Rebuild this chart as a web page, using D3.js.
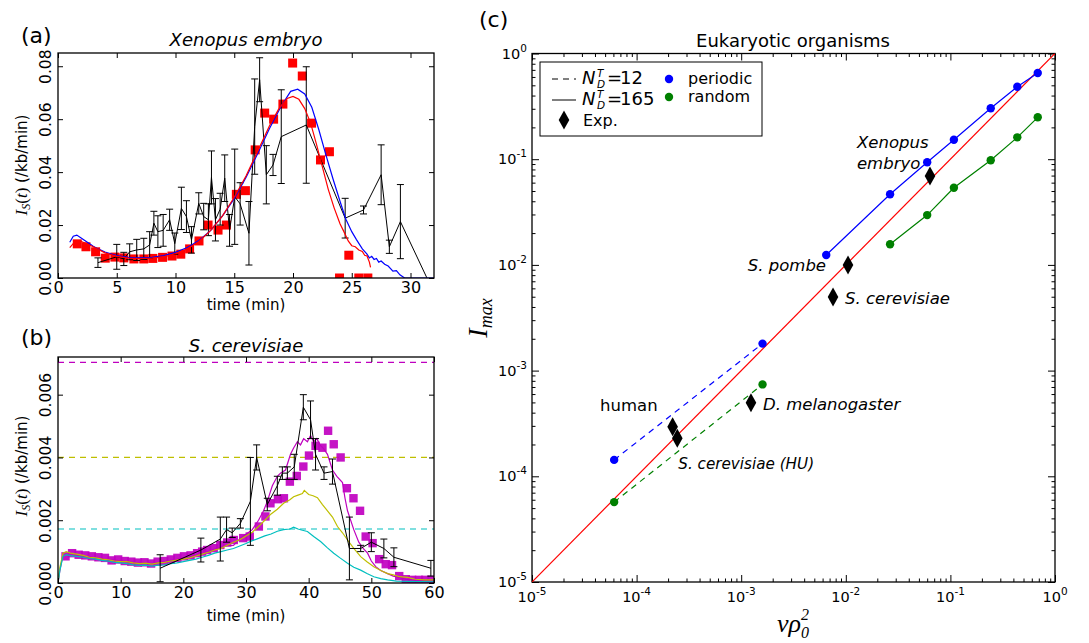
<!DOCTYPE html>
<html>
<head>
<meta charset="utf-8">
<script src="https://cdn.jsdelivr.net/npm/d3@7"></script>
<style>
  body { margin: 0; background: #fff; }
  text { font-family: "DejaVu Sans", sans-serif; fill: #000; }
  .math { font-family: "Liberation Serif", "DejaVu Serif", serif; font-style: italic; }
</style>
</head>
<body>
<svg id="fig" width="1089" height="643"></svg>
<script>
// ---------- panel (a): Xenopus embryo ----------
const xenoSquareT = [1.64, 2.38, 3.2, 4.02, 4.84, 5.6, 6.46, 7.3, 8.07, 8.9, 9.7, 10.45, 11.2, 12.0, 12.77,
  13.62, 14.33, 15.18, 15.95, 16.78, 17.59, 18.35, 19.14, 19.97, 20.79, 21.58, 22.34, 23.1, 23.96, 24.75, 25.6, 26.37];
const xenoSquareV = [0.0129, 0.0118, 0.0099, 0.0075, 0.0079, 0.0076, 0.0072, 0.0072, 0.0074, 0.0078, 0.0083, 0.009, 0.011, 0.014, 0.020,
  0.0181, 0.020, 0.0316, 0.033, 0.0484, 0.0623, 0.060, 0.0657, 0.0812, 0.0763, 0.0585, 0.0446, 0.0477, 0.0, 0.0086, 0.0, 0.0];

const xenoBlueT = [1.0, 1.3, 1.6, 2.0, 2.5, 3.0, 3.5, 4.0, 5.0, 6.0, 7.0, 8.0, 9.0, 10.0, 11.0, 12.0, 13.0, 14.0, 15.0, 16.0, 17.0,
  18.0, 19.0, 19.8, 20.4, 21.0, 21.6, 22.2, 22.8, 23.4, 24.0, 24.5, 25.0, 25.4, 25.9, 26.3, 26.5, 26.7, 26.9, 27.1, 27.3, 27.5,
  27.8, 28.1, 28.5, 28.8, 29.1, 29.5, 32.0];
const xenoBlueV = [0.0135, 0.0158, 0.0162, 0.0150, 0.0135, 0.0120, 0.0108, 0.0098, 0.0085, 0.0078, 0.0076, 0.0078, 0.0085, 0.0097,
  0.0115, 0.0142, 0.0180, 0.0235, 0.0300, 0.0380, 0.0470, 0.0565, 0.0650, 0.0705, 0.0713, 0.0695, 0.0645, 0.0560, 0.0465, 0.0375,
  0.0290, 0.0222, 0.0175, 0.0145, 0.0110, 0.0090, 0.0076, 0.0082, 0.0070, 0.0074, 0.0060, 0.0064, 0.0052, 0.0045, 0.0026, 0.0028,
  0.0012, 0.0, 0.0];

const xenoRedT = [1.0, 1.5, 2.0, 3.0, 4.0, 5.0, 6.0, 7.0, 8.0, 9.0, 10.0, 11.0, 12.0, 13.0, 14.0, 15.0, 16.0, 17.0, 18.0, 18.8, 19.5,
  20.0, 20.5, 21.0, 21.5, 22.0, 22.5, 23.0, 23.5, 24.0, 24.3, 24.7, 25.0, 25.3, 25.6, 25.9, 26.1, 26.3, 26.5, 26.6];
const xenoRedV = [0.0115, 0.0140, 0.0138, 0.0118, 0.0095, 0.0082, 0.0075, 0.0073, 0.0075, 0.0080, 0.0092, 0.0110, 0.0138, 0.0180,
  0.0235, 0.0305, 0.0385, 0.0480, 0.0575, 0.0640, 0.0678, 0.0686, 0.0675, 0.0640, 0.0585, 0.0505, 0.0420, 0.0335, 0.0265, 0.0205,
  0.0178, 0.0140, 0.0122, 0.0118, 0.0106, 0.0100, 0.0086, 0.0083, 0.0060, 0.0040];

const xenoExpT = [3.4, 5.0, 5.6, 6.1, 6.7, 7.3, 7.8, 8.16, 8.5, 8.95, 9.5, 9.94, 10.5, 10.93, 11.36, 11.98, 12.4, 12.8, 13.06, 13.4,
  13.8, 14.19, 14.6, 15.04, 15.5, 16.25, 16.74, 17.16, 17.73, 18.3, 19.0, 21.13, 24.44, 26.0, 27.5, 28.2, 29.14, 31.4];
const xenoExpV = [0.0058, 0.0080, 0.0072, 0.0099, 0.0106, 0.0110, 0.0125, 0.0207, 0.0175, 0.0180, 0.0220, 0.0130, 0.0263, 0.0232,
  0.0144, 0.0282, 0.0232, 0.0220, 0.0380, 0.0220, 0.0260, 0.0377, 0.0180, 0.0307, 0.0280, 0.0169, 0.0572, 0.0749, 0.0390, 0.0427,
  0.0534, 0.0578, 0.0226, 0.0257, 0.0390, 0.0118, 0.0213, 0.0];
const xenoExpErr = [0.0018, 0.0047, 0.0025, 0.0030, 0.0040, 0.0040, 0.0050, 0.0045, 0.0060, 0.0060, 0.0040, 0.0040, 0.0080, 0.0060,
  0.0050, 0.0040, 0.0050, 0.0060, 0.0100, 0.0080, 0.0060, 0.0088, 0.0060, 0.0180, 0.0080, 0.0120, 0.0180, 0.0083, 0.0110, 0.0040,
  0.0177, 0.0220, 0.0075, 0.0015, 0.0113, 0.0025, 0.0140, 0.0];

// ---------- panel (b): S. cerevisiae ----------
const cereSquareT = [1.2, 2.25, 3.3, 4.35, 5.4, 6.45, 7.5, 8.55, 9.6, 10.65, 11.7, 12.75, 13.8, 14.85, 15.9, 16.95, 18.0, 19.05,
  20.1, 21.15, 22.2, 23.0, 23.8, 24.85, 25.9, 27.0, 28.05, 29.55, 30.6, 32.05, 33.1, 33.9, 35.1, 36.05, 37.0, 38.1, 39.15, 40.05,
  41.1, 42.2, 43.1, 44.0, 45.1, 46.1, 47.15, 48.2, 49.1, 50.2, 51.25, 52.3, 53.3, 54.45, 55.5, 56.5, 57.6, 58.6, 59.6];
const cereSquareV = [0.00085, 0.00095, 0.0009, 0.00088, 0.00085, 0.00082, 0.0008, 0.00072, 0.00075, 0.0007, 0.00068, 0.00065,
  0.00066, 0.00062, 0.00068, 0.0007, 0.00075, 0.0008, 0.00085, 0.00088, 0.00095, 0.001, 0.00105, 0.00111, 0.00121, 0.00129,
  0.00137, 0.00143, 0.00148, 0.0018, 0.00212, 0.00254, 0.00267, 0.0027, 0.00323, 0.00341, 0.00371, 0.00406, 0.00437, 0.00431,
  0.00485, 0.00442, 0.0040, 0.00302, 0.0027, 0.0023, 0.00148, 0.00127, 0.00076, 0.0006, 0.00057, 0.00022, 0.00012, 0.0001,
  0.0001, 0.0001, 0.0001];

const cereMagT = [0, 0.3, 0.7, 1.2, 2, 3, 4, 5, 6, 7, 8, 9, 10, 11, 12, 13, 14, 15, 16, 17, 18, 19, 20, 21, 22, 23, 24, 25, 26, 27,
  28, 29, 30, 31, 32, 32.8, 33.4, 34.2, 35, 35.5, 36.3, 37.1, 37.6, 38.2, 38.7, 39.2, 39.8, 40.3, 40.8, 41.3, 41.8, 42.3, 43,
  43.8, 44.5, 45.4, 45.8, 46.2, 47.2, 48, 48.7, 49.4, 50, 50.7, 51.5, 52.6, 53.5, 54.5, 55.5, 56.5, 58, 60];
const cereMagV = [0, 0.0004, 0.0008, 0.00092, 0.0009, 0.00088, 0.00085, 0.00083, 0.0008, 0.00078, 0.00072, 0.00074, 0.0007,
  0.00068, 0.00066, 0.00063, 0.00065, 0.00062, 0.00066, 0.00068, 0.00072, 0.00075, 0.00079, 0.00083, 0.00088, 0.00094, 0.001,
  0.00108, 0.00113, 0.00119, 0.0012, 0.0014, 0.00155, 0.0017, 0.002, 0.0023, 0.0026, 0.0031, 0.0034, 0.0035, 0.0036, 0.0041,
  0.0043, 0.0045, 0.0044, 0.0046, 0.0045, 0.0047, 0.0045, 0.0046, 0.0044, 0.0043, 0.0041, 0.0036, 0.0034, 0.0032, 0.0027, 0.0023,
  0.0017, 0.0013, 0.0011, 0.00095, 0.0007, 0.00052, 0.0004, 0.0003, 0.00022, 0.00018, 0.00012, 0.0001, 0.00008, 0.00008];

const cereYelT = [0, 0.3, 0.8, 1.3, 2, 3, 4, 5, 6, 7, 8, 9, 10, 11, 12, 13, 14, 15, 16, 17, 18, 19, 20, 21, 22, 23, 24, 25, 26, 27,
  28, 29, 30, 31, 32, 33, 34, 35, 36, 37, 37.6, 38.3, 39, 39.3, 40, 40.7, 41.4, 42.2, 43, 43.8, 44.6, 45.4, 46.2, 47.2, 48.3,
  49.3, 50.4, 51.5, 52.6, 53.5, 54.5, 55.8, 57, 58.5, 60];
const cereYelV = [0, 0.0005, 0.00095, 0.001, 0.00095, 0.00092, 0.00088, 0.00082, 0.0008, 0.00076, 0.00074, 0.0007, 0.00068,
  0.00068, 0.00064, 0.00062, 0.00063, 0.0006, 0.00064, 0.00066, 0.0007, 0.00073, 0.00076, 0.0008, 0.00086, 0.00092, 0.00098,
  0.00105, 0.0011, 0.0012, 0.0013, 0.00138, 0.0015, 0.00162, 0.0018, 0.002, 0.0022, 0.00235, 0.00254, 0.00265, 0.00275, 0.0028,
  0.00285, 0.00295, 0.00282, 0.00278, 0.00272, 0.0025, 0.0023, 0.0021, 0.0018, 0.0016, 0.00137, 0.0011, 0.00084, 0.00068,
  0.00052, 0.0004, 0.0003, 0.00026, 0.0002, 0.00018, 0.00012, 0.0001, 0.0001];

const cereCyanT = [0, 0.3, 0.8, 1.3, 2, 3, 4, 5, 6, 7, 8, 9, 10, 11, 12, 13, 14, 15, 16, 17, 18, 19, 20, 21, 22, 23, 24, 25, 26,
  27, 28, 29, 30, 31, 32, 33, 34, 35, 36, 37, 37.6, 38.3, 39, 39.8, 40.8, 41.9, 43, 44, 45, 46.2, 47.2, 48.3, 49.3, 50.4, 51.5,
  52.6, 54, 56, 60];
const cereCyanV = [0, 0.0004, 0.00085, 0.0009, 0.00087, 0.00085, 0.00082, 0.00078, 0.00076, 0.00072, 0.0007, 0.00066, 0.00064,
  0.00062, 0.00058, 0.00056, 0.00057, 0.00054, 0.00057, 0.00058, 0.00062, 0.00064, 0.00068, 0.00072, 0.00076, 0.00082, 0.00088,
  0.00095, 0.001, 0.00105, 0.0011, 0.00118, 0.00126, 0.00135, 0.00142, 0.0015, 0.00156, 0.00165, 0.0017, 0.00172, 0.00178,
  0.00172, 0.00168, 0.00164, 0.00148, 0.00132, 0.00112, 0.00095, 0.0008, 0.00063, 0.0005, 0.00041, 0.0003, 0.0002, 0.00014,
  0.0001, 0.00006, 0.00005, 0.00004];

const cereLevels = [0.00703, 0.004, 0.00172];
const cereLevelColors = ['#bf00bf', '#bfbf00', '#00bfbf'];

const cereExpT = [16.3, 22.8, 25.9, 26.9, 27.8, 29.1, 30.7, 31.7, 33.4, 35.0, 35.8, 36.6, 37.7, 39.15, 40.3, 41.1, 42.45, 43.8,
  46.5, 48.3, 50.0, 52.0, 53.6, 59.5];
const cereExpV = [0.00047, 0.00105, 0.0014, 0.0017, 0.0016, 0.0019, 0.0026, 0.0040, 0.0025, 0.0031, 0.0035, 0.0035, 0.0037, 0.0056,
  0.0052, 0.0041, 0.0035, 0.00355, 0.0011, 0.0011, 0.0013, 0.0011, 0.00082, 0.00047];
const cereExpErr = [0.00043, 0.00038, 0.0007, 0.0004, 0.00015, 0.00015, 0.0014, 0.0004, 0.0002, 0.0003, 0.0002, 0.0002, 0.0004,
  0.0004, 0.0006, 0.0005, 0.0002, 0.0004, 0.001, 0.0001, 0.0003, 0.0003, 0.0003, 0.00025];

// ---------- panel (c): Eukaryotic organisms ----------
const periodicX = [6.1e-5, 1.6e-3, 6.5e-3, 0.0265, 0.060, 0.108, 0.243, 0.436, 0.684];
const periodicY = [1.43e-4, 1.8e-3, 1.24e-2, 0.0466, 0.0935, 0.153, 0.303, 0.485, 0.654];
const randomX = [6.1e-5, 1.6e-3, 0.0265, 0.060, 0.108, 0.243, 0.436, 0.684];
const randomY = [5.7e-5, 7.4e-4, 0.0157, 0.0296, 0.0537, 0.0977, 0.161, 0.249];
const expNames = ['Xenopus embryo', 'S. pombe', 'S. cerevisiae', 'D. melanogaster', 'human', 'S. cerevisiae (HU)'];
const expX = [0.0638, 0.0105, 0.00755, 1.24e-3, 2.21e-4, 2.45e-4];
const expY = [0.0693, 0.0100, 0.00497, 4.97e-4, 2.94e-4, 2.29e-4];
const refLineX = [1e-5, 1];
const refLineY = [1e-5, 1];
const decadeExp = [-5, -4, -3, -2, -1, 0];

const svg = d3.select('#fig');

function frame(g, x, y) {
  const [x0, x1] = x.range(), [y0, y1] = y.range();
  g.append('rect').attr('x', x0).attr('y', y1).attr('width', x1 - x0).attr('height', y0 - y1)
    .attr('fill', 'none').attr('stroke', '#000').attr('stroke-width', 1.3);
}

function styleAxis(sel, size) {
  sel.select('.domain').remove();
  sel.attr('font-family', null).attr('font-size', null);
  sel.selectAll('line').attr('stroke', '#000');
  sel.selectAll('text').attr('font-size', size);
}

// linear panel with inside ticks on four sides, rotated y labels
function linearPanel(g, x, y, xTicks, yTicks, yFmt, clipId) {
  const [x0, x1] = x.range(), [y0, y1] = y.range();
  const tl = 5;
  g.append('g').attr('transform', `translate(0,${y0})`)
    .call(d3.axisBottom(x).tickValues(xTicks).tickFormat(d3.format('d')).tickSizeInner(-tl).tickSizeOuter(0).tickPadding(4))
    .call(s => styleAxis(s, 16));
  g.append('g').attr('transform', `translate(0,${y1})`)
    .call(d3.axisTop(x).tickValues(xTicks).tickFormat('').tickSizeInner(-tl).tickSizeOuter(0))
    .call(s => styleAxis(s, 16));
  g.append('g').attr('transform', `translate(${x1},0)`)
    .call(d3.axisRight(y).tickValues(yTicks).tickFormat('').tickSizeInner(-tl).tickSizeOuter(0))
    .call(s => styleAxis(s, 16));
  const ya = g.append('g').attr('transform', `translate(${x0},0)`)
    .call(d3.axisLeft(y).tickValues(yTicks).tickFormat(d3.format(yFmt)).tickSizeInner(-tl).tickSizeOuter(0))
    .call(s => styleAxis(s, 15.5));
  ya.selectAll('text').attr('transform', 'rotate(-90)').attr('x', 0).attr('y', -7).attr('dy', 0)
    .attr('text-anchor', 'middle');
  g.append('clipPath').attr('id', clipId).append('rect')
    .attr('x', x0).attr('y', y1).attr('width', x1 - x0).attr('height', y0 - y1);
  frame(g, x, y);
}

function ylabel(g, cx, cy) {
  const t = g.append('text').attr('transform', `translate(${cx},${cy}) rotate(-90)`).attr('text-anchor', 'middle');
  t.append('tspan').attr('class', 'math').attr('font-size', 17).text('I');
  t.append('tspan').attr('class', 'math').attr('font-size', 12).attr('dy', 3).text('S');
  t.append('tspan').attr('font-family', 'Liberation Serif').attr('font-size', 17).attr('dy', -3).text('(');
  t.append('tspan').attr('class', 'math').attr('font-size', 17).text('t');
  t.append('tspan').attr('font-family', 'Liberation Serif').attr('font-size', 17).text(')');
  t.append('tspan').attr('font-size', 15).text(' (/kb/min)');
}

function errorBars(g, x, y, T, V, E, clipId) {
  const eb = g.append('g').attr('clip-path', `url(#${clipId})`).attr('stroke', '#000').attr('stroke-width', 1);
  const pts = d3.zip(T, V, E);
  eb.selectAll('line.v').data(pts).join('line').attr('class', 'v')
    .attr('x1', d => x(d[0])).attr('x2', d => x(d[0])).attr('y1', d => y(d[1] - d[2])).attr('y2', d => y(d[1] + d[2]));
  [-1, 1].forEach(s => {
    eb.selectAll(`line.c${s}`).data(pts.filter(d => d[2] > 0)).join('line').attr('class', `c${s}`)
      .attr('x1', d => x(d[0]) - 3.5).attr('x2', d => x(d[0]) + 3.5)
      .attr('y1', d => y(d[1] + s * d[2])).attr('y2', d => y(d[1] + s * d[2]));
  });
  eb.append('path').datum(d3.zip(T, V)).attr('fill', 'none')
    .attr('d', d3.line().x(d => x(d[0])).y(d => y(d[1])));
}

// ================= panel (a) =================
{
  const g = svg.append('g');
  const x = d3.scaleLinear().domain([0, 32]).range([58, 434]);
  const y = d3.scaleLinear().domain([0, 0.085]).range([278, 53]);
  const clip = 'clipA';
  const line = d3.line().x(d => x(d[0])).y(d => y(d[1]));
  g.append('g').attr('clip-path', `url(#${clip})`).selectAll('rect').data(d3.zip(xenoSquareT, xenoSquareV)).join('rect')
    .attr('x', d => x(d[0]) - 4.5).attr('y', d => y(d[1]) - 4.5).attr('width', 9).attr('height', 9).attr('fill', '#ff0000');
  errorBars(g, x, y, xenoExpT, xenoExpV, xenoExpErr, clip);
  g.append('path').datum(d3.zip(xenoBlueT, xenoBlueV)).attr('clip-path', `url(#${clip})`)
    .attr('fill', 'none').attr('stroke', '#0000ff').attr('stroke-width', 1.2).attr('d', line);
  g.append('path').datum(d3.zip(xenoRedT, xenoRedV)).attr('clip-path', `url(#${clip})`)
    .attr('fill', 'none').attr('stroke', '#ff0000').attr('stroke-width', 1.2).attr('d', line);
  linearPanel(g, x, y, [0, 5, 10, 15, 20, 25, 30], [0, 0.02, 0.04, 0.06, 0.08], '.2f', clip);
  g.append('text').attr('x', 246).attr('y', 46).attr('text-anchor', 'middle').attr('font-size', 18)
    .attr('font-style', 'italic').text('Xenopus embryo');
  g.append('text').attr('x', 246).attr('y', 310).attr('text-anchor', 'middle').attr('font-size', 15).text('time (min)');
  ylabel(g, 27, 165);
  g.append('text').attr('x', 21).attr('y', 43).attr('font-size', 22).text('(a)');
}

// ================= panel (b) =================
{
  const g = svg.append('g');
  const x = d3.scaleLinear().domain([0, 60]).range([58, 434]);
  const y = d3.scaleLinear().domain([0, 0.0072]).range([583, 357]);
  const clip = 'clipB';
  const line = d3.line().x(d => x(d[0])).y(d => y(d[1]));
  const body = g.append('g').attr('clip-path', `url(#${clip})`);
  body.selectAll('line.lvl').data(cereLevels).join('line').attr('class', 'lvl')
    .attr('x1', x(0)).attr('x2', x(60)).attr('y1', d => y(d)).attr('y2', d => y(d))
    .attr('stroke', (d, i) => cereLevelColors[i]).attr('stroke-width', 1.2).attr('stroke-dasharray', '6,5');
  body.selectAll('rect').data(d3.zip(cereSquareT, cereSquareV)).join('rect')
    .attr('x', d => x(d[0]) - 4.2).attr('y', d => y(d[1]) - 4.2).attr('width', 8.4).attr('height', 8.4)
    .attr('fill', '#c000c0').attr('opacity', 0.92);
  [[cereMagT, cereMagV, '#bf00bf'], [cereYelT, cereYelV, '#bfbf00'], [cereCyanT, cereCyanV, '#00bfbf']].forEach(([T, V, c]) => {
    body.append('path').datum(d3.zip(T, V)).attr('fill', 'none').attr('stroke', c).attr('stroke-width', 1.2).attr('d', line);
  });
  errorBars(g, x, y, cereExpT, cereExpV, cereExpErr, clip);
  linearPanel(g, x, y, [0, 10, 20, 30, 40, 50, 60], [0, 0.002, 0.004, 0.006], '.3f', clip);
  g.append('text').attr('x', 246).attr('y', 352).attr('text-anchor', 'middle').attr('font-size', 18)
    .attr('font-style', 'italic').text('S. cerevisiae');
  g.append('text').attr('x', 246).attr('y', 621).attr('text-anchor', 'middle').attr('font-size', 15).text('time (min)');
  ylabel(g, 27, 466);
  g.append('text').attr('x', 21).attr('y', 345).attr('font-size', 22).text('(b)');
}

// ================= panel (c) =================
{
  const g = svg.append('g');
  const x = d3.scaleLog().domain([1e-5, 1]).range([532, 1055]);
  const y = d3.scaleLog().domain([1e-5, 1]).range([582, 53.5]);
  const majors = decadeExp.map(e => Math.pow(10, e));
  const minors = [];
  majors.slice(0, -1).forEach(m => { for (let k = 2; k < 10; k++) minors.push(m * k); });
  const [x0, x1] = x.range(), [y0, y1] = y.range();
  const axes = [
    [d3.axisBottom, x, `translate(0,${y0})`],
    [d3.axisTop, x, `translate(0,${y1})`],
    [d3.axisLeft, y, `translate(${x0},0)`],
    [d3.axisRight, y, `translate(${x1},0)`]
  ];
  axes.forEach(([ax, sc, tr]) => {
    g.append('g').attr('transform', tr).call(ax(sc).tickValues(majors).tickFormat('').tickSizeInner(-7).tickSizeOuter(0))
      .call(s => styleAxis(s, 14));
    g.append('g').attr('transform', tr).call(ax(sc).tickValues(minors).tickFormat('').tickSizeInner(-3.5).tickSizeOuter(0))
      .call(s => styleAxis(s, 14));
  });
  frame(g, x, y);
  // tick labels 10^k
  const xl = g.append('g');
  decadeExp.forEach((e, i) => {
    const t = xl.append('text').attr('x', x(majors[i])).attr('y', y0 + 20).attr('text-anchor', 'middle').attr('font-size', 14.5);
    t.append('tspan').text('10');
    t.append('tspan').attr('font-size', 10.5).attr('dy', -7).text(e);
    const u = xl.append('text').attr('x', x0 - 5).attr('y', y(majors[i]) + 5).attr('text-anchor', 'end').attr('font-size', 14.5);
    u.append('tspan').text('10');
    u.append('tspan').attr('font-size', 10.5).attr('dy', -7).text(e);
  });

  const clip = 'clipC';
  g.append('clipPath').attr('id', clip).append('rect').attr('x', x0).attr('y', y1).attr('width', x1 - x0).attr('height', y0 - y1);
  const body = g.append('g').attr('clip-path', `url(#${clip})`);
  const line = d3.line().x(d => x(d[0])).y(d => y(d[1]));
  body.append('path').datum(d3.zip(refLineX, refLineY)).attr('fill', 'none').attr('stroke', '#ff0000').attr('stroke-width', 1.2).attr('d', line);

  [[periodicX, periodicY, '#0000ff'], [randomX, randomY, '#008000']].forEach(([X, Y, c]) => {
    const pts = d3.zip(X, Y);
    body.append('path').datum(pts.slice(0, 2)).attr('fill', 'none').attr('stroke', c).attr('stroke-width', 1.2)
      .attr('stroke-dasharray', '6,5').attr('d', line);
    body.append('path').datum(pts.slice(2)).attr('fill', 'none').attr('stroke', c).attr('stroke-width', 1.2).attr('d', line);
    body.selectAll(null).data(pts).join('circle').attr('cx', d => x(d[0])).attr('cy', d => y(d[1])).attr('r', 4.2).attr('fill', c);
  });

  const diamond = 'M0,-9.5L5.3,0L0,9.5L-5.3,0Z';
  body.selectAll('path.exp').data(d3.zip(expX, expY)).join('path').attr('class', 'exp')
    .attr('transform', d => `translate(${x(d[0])},${y(d[1])})`).attr('d', diamond).attr('fill', '#000');

  // annotations, offsets in pixels from each diamond
  const ann = [
    { dx: -73, dy: -28, anchor: 'start', size: 16.5, italic: true, lines: ['Xenopus', 'embryo'] },
    { dx: -22, dy: 6, anchor: 'end', size: 16.5, italic: true },
    { dx: 12, dy: 7, anchor: 'start', size: 16.5, italic: true },
    { dx: 12, dy: 7, anchor: 'start', size: 16.5, italic: true },
    { dx: -15, dy: -16, anchor: 'end', size: 16.5, italic: false },
    { dx: 1, dy: 31, anchor: 'start', size: 15.2, italic: true }
  ];
  expNames.forEach((name, i) => {
    const a = ann[i];
    const lines = a.lines || [name];
    lines.forEach((ln, j) => {
      g.append('text').attr('x', x(expX[i]) + a.dx).attr('y', y(expY[i]) + a.dy + j * 21)
        .attr('text-anchor', a.anchor).attr('font-size', a.size).attr('font-style', a.italic ? 'italic' : 'normal').text(ln);
    });
  });

  g.append('text').attr('x', 793).attr('y', 47).attr('text-anchor', 'middle').attr('font-size', 18).text('Eukaryotic organisms');
  g.append('text').attr('x', 479).attr('y', 27).attr('font-size', 22).text('(c)');

  // axis labels
  const yl = g.append('text').attr('transform', 'translate(487,318) rotate(-90)').attr('text-anchor', 'middle').attr('class', 'math');
  yl.append('tspan').attr('font-size', 28).text('I');
  yl.append('tspan').attr('font-size', 18).attr('dy', 5).text('max');
  const xlab = g.append('text').attr('x', 777).attr('y', 632).attr('class', 'math');
  xlab.append('tspan').attr('font-size', 26).text('v\u03C1');
  xlab.append('tspan').attr('font-size', 16).attr('dy', -12).text('2');
  xlab.append('tspan').attr('font-size', 16).attr('dx', -8).attr('dy', 18).text('0');

  // legend
  const lg = g.append('g');
  lg.append('rect').attr('x', 540).attr('y', 62).attr('width', 222).attr('height', 74)
    .attr('fill', '#fff').attr('stroke', '#000').attr('stroke-width', 1);
  lg.append('line').attr('x1', 552).attr('x2', 576).attr('y1', 79).attr('y2', 79).attr('stroke', '#000').attr('stroke-dasharray', '6,5');
  lg.append('line').attr('x1', 552).attr('x2', 576).attr('y1', 100).attr('y2', 100).attr('stroke', '#000');
  lg.append('path').attr('transform', 'translate(564,120)').attr('d', diamond).attr('fill', '#000');
  [['12', 84], ['165', 105]].forEach(([n, by]) => {
    const t = lg.append('text').attr('x', 582).attr('y', by).attr('font-family', 'Liberation Serif');
    t.append('tspan').attr('font-style', 'italic').attr('font-size', 18).text('N');
    t.append('tspan').attr('x', 597).attr('dy', -7).attr('font-style', 'italic').attr('font-size', 10.5).text('T');
    t.append('tspan').attr('x', 597).attr('dy', 11).attr('font-style', 'italic').attr('font-size', 10.5).text('D');
    t.append('tspan').attr('x', 607).attr('dy', -4).attr('font-size', 18).text('=');
    t.append('tspan').attr('x', 620).attr('font-size', 18).text(n);
  });
  lg.append('text').attr('x', 583).attr('y', 126).attr('font-size', 16).text('Exp.');
  lg.append('circle').attr('cx', 669).attr('cy', 79).attr('r', 4.2).attr('fill', '#0000ff');
  lg.append('circle').attr('cx', 669).attr('cy', 97).attr('r', 4.2).attr('fill', '#008000');
  lg.append('text').attr('x', 688).attr('y', 84).attr('font-size', 16).text('periodic');
  lg.append('text').attr('x', 688).attr('y', 102).attr('font-size', 16).text('random');
}
</script>
</body>
</html>
